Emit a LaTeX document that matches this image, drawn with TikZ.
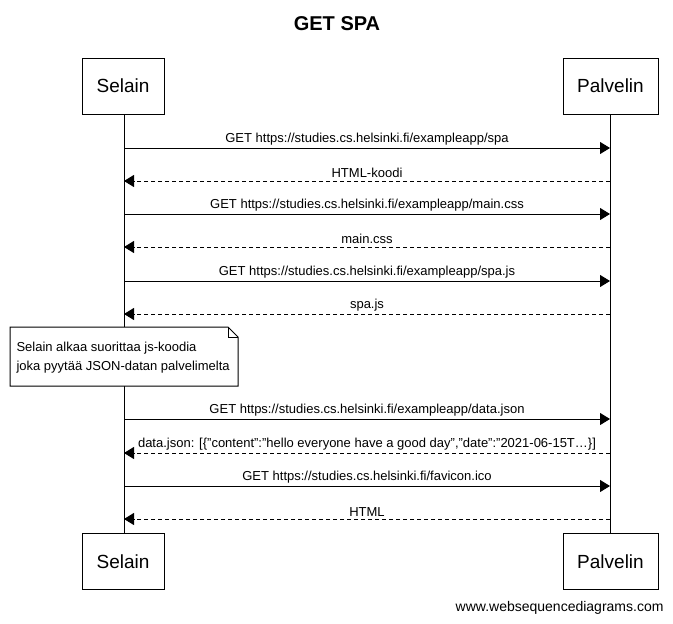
\documentclass[tikz,border=0pt]{standalone}
\usepackage{fontspec}
\setmainfont{Liberation Sans}
\usetikzlibrary{arrows.meta}
\newcommand{\dq}{\char34 }
\begin{document}
\begin{tikzpicture}[x=1pt,y=-1pt,line width=1pt,
  actor/.style={draw,fill=white,minimum height=56pt,inner sep=0pt,font=\fontsize{19}{22}\selectfont},
  msglbl/.style={font=\fontsize{13}{15}\selectfont,inner sep=0pt},
  req/.style={-{Triangle[length=10pt,width=12pt]}},
  resp/.style={req,dash pattern=on 4pt off 3pt},
  lifeline/.style={line width=1pt}]
\useasboundingbox (0,0) rectangle (673,624);
\node[font=\bfseries\fontsize{20}{22}\selectfont] (title) at (337,24) {GET SPA};
\node[actor,minimum width=82pt] (s) at (123,86) {Selain};
\node[actor,minimum width=95pt] (p) at (610.5,86) {Palvelin};
\node[actor,minimum width=82pt] (s2) at (123,561.5) {Selain};
\node[actor,minimum width=95pt] (p2) at (610.5,561.5) {Palvelin};
\draw[lifeline] (124,114) coordinate (sl) -- (124,533) coordinate (slb);
\draw[lifeline] (610,114) coordinate (pl) -- (610,533) coordinate (plb);
% message anchor coordinates
\foreach \i/\y in {1/148,2/181,3/214,4/247,5/281,6/314,7/419,8/453,9/486,10/519}{
  \coordinate (s\i) at (124,\y);
  \coordinate (p\i) at (610,\y);
}
\tikzset{lbl/.style={msglbl,above=2.5pt}}
\draw[req] (s1) -- node[lbl] {GET https://studies.cs.helsinki.fi/exampleapp/spa} (p1);
\draw[resp] (p2) -- node[lbl] {HTML-koodi} (s2);
\draw[req] (s3) -- node[lbl] {GET https://studies.cs.helsinki.fi/exampleapp/main.css} (p3);
\draw[resp] (p4) -- node[lbl] {main.css} (s4);
\draw[req] (s5) -- node[lbl] {GET https://studies.cs.helsinki.fi/exampleapp/spa.js} (p5);
\draw[resp] (p6) -- node[lbl] {spa.js} (s6);
\draw[req] (s7) -- node[lbl] {GET https://studies.cs.helsinki.fi/exampleapp/data.json} (p7);
\draw[resp] (p8) -- node[lbl] {data.json: [\{\dq content\dq:\dq hello everyone have a good day\dq,\dq date\dq:\dq 2021-06-15T…\}]} (s8);
\draw[req] (s9) -- node[lbl] {GET https://studies.cs.helsinki.fi/favicon.ico} (p9);
\draw[resp] (p10) -- node[lbl] {HTML} (s10);
% note
\draw[fill=white,line width=1pt] (10,327) -- (228,327) -- (238,337) -- (238,386) -- (10,386) -- cycle;
\draw[line width=1pt] (228,327) -- (228,337) -- (238,337);
\node[msglbl,anchor=west,align=left,font=\fontsize{13}{19}\selectfont] (note) at (16,357.5) {Selain alkaa suorittaa js-koodia\\joka pyytää JSON-datan palvelimelta};
\node[anchor=east,inner sep=0pt,font=\fontsize{14}{16}\selectfont] (footer) at (664,608) {www.websequencediagrams.com};
\end{tikzpicture}
\end{document}
